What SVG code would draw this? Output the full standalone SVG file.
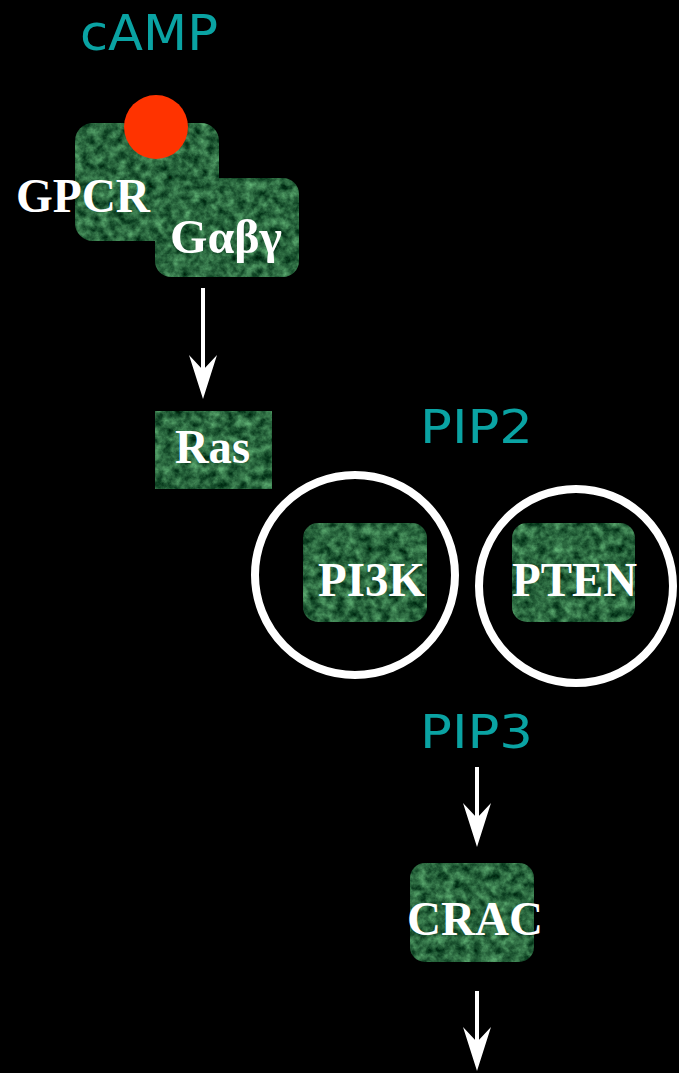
<svg xmlns="http://www.w3.org/2000/svg" width="679" height="1073" viewBox="0 0 679 1073">
<style>
.lbl{font-family:"Liberation Serif","Times New Roman",serif;font-weight:bold;font-size:48px;fill:#ffffff}
.mol{font-family:"DejaVu Sans","Comic Sans MS",sans-serif;font-size:46px;fill:#0aa3a3}
.big{font-size:50px}
.box{fill:#2d6e4b;filter:url(#tex)}
.ring{fill:none;stroke:#ffffff;stroke-width:8}
.shaft{stroke:#ffffff;stroke-width:4;fill:none}
.head{fill:#ffffff}
</style>
<defs>
<filter id="tex" x="0" y="0" width="1" height="1" color-interpolation-filters="sRGB">
<feTurbulence type="fractalNoise" baseFrequency="0.11" numOctaves="4" seed="7" result="n"/>
<feColorMatrix in="n" type="matrix" values="0.55 0 0 0 -0.11  0.75 0 0 0 0.03  0.55 0 0 0 -0.03  0 0 0 0 1" result="c"/>
<feComposite in="c" in2="SourceGraphic" operator="in"/>
</filter>
</defs>
<rect x="0" y="0" width="679" height="1073" fill="#000000"/>

<g id="connectors">
<g id="arrow-gprotein-ras">
<line class="shaft" x1="203" y1="288" x2="203" y2="372"/>
<path class="head" d="M203,399 L189,355 L203,370 L217,355 Z"/>
</g>
<g id="arrow-pip3-crac">
<line class="shaft" x1="477" y1="767" x2="477" y2="820"/>
<path class="head" d="M477,847 L463,803 L477,818 L491,803 Z"/>
</g>
<g id="arrow-crac-out">
<line class="shaft" x1="477" y1="991" x2="477" y2="1044"/>
<path class="head" d="M477,1071 L463,1027 L477,1042 L491,1027 Z"/>
</g>
</g>

<g id="camp">
<text class="mol big" x="80" y="50" textLength="138" lengthAdjust="spacingAndGlyphs">cAMP</text>
</g>

<g id="gpcr">
<rect class="box" x="75" y="123" width="144" height="118" rx="18"/>
<text class="lbl" x="16" y="212" textLength="134" lengthAdjust="spacingAndGlyphs">GPCR</text>
</g>

<g id="ligand">
<circle cx="156" cy="127" r="32" fill="#ff3300"/>
</g>

<g id="gprotein">
<rect class="box" x="155" y="178" width="144" height="99" rx="16"/>
<text class="lbl" x="170" y="253" textLength="112" lengthAdjust="spacingAndGlyphs">Gαβγ</text>
</g>

<g id="ras">
<rect class="box" x="155" y="411" width="117" height="78"/>
<text class="lbl" x="175" y="463" textLength="75" lengthAdjust="spacingAndGlyphs">Ras</text>
</g>

<g id="pip2">
<text class="mol" x="420" y="443" textLength="113" lengthAdjust="spacingAndGlyphs">PIP2</text>
</g>

<g id="pi3k">
<circle class="ring" cx="355" cy="575" r="100"/>
<rect class="box" x="303" y="523" width="124" height="99" rx="15"/>
<text class="lbl" x="318" y="596" textLength="107" lengthAdjust="spacingAndGlyphs">PI3K</text>
</g>

<g id="pten">
<circle class="ring" cx="576" cy="586" r="97"/>
<rect class="box" x="512" y="523" width="123" height="99" rx="15"/>
<text class="lbl" x="512" y="596" textLength="125" lengthAdjust="spacingAndGlyphs">PTEN</text>
</g>

<g id="pip3">
<text class="mol" x="420" y="748" textLength="113" lengthAdjust="spacingAndGlyphs">PIP3</text>
</g>

<g id="crac">
<rect class="box" x="410" y="863" width="124" height="99" rx="15"/>
<text class="lbl" x="407" y="935" textLength="136" lengthAdjust="spacingAndGlyphs">CRAC</text>
</g>
</svg>
